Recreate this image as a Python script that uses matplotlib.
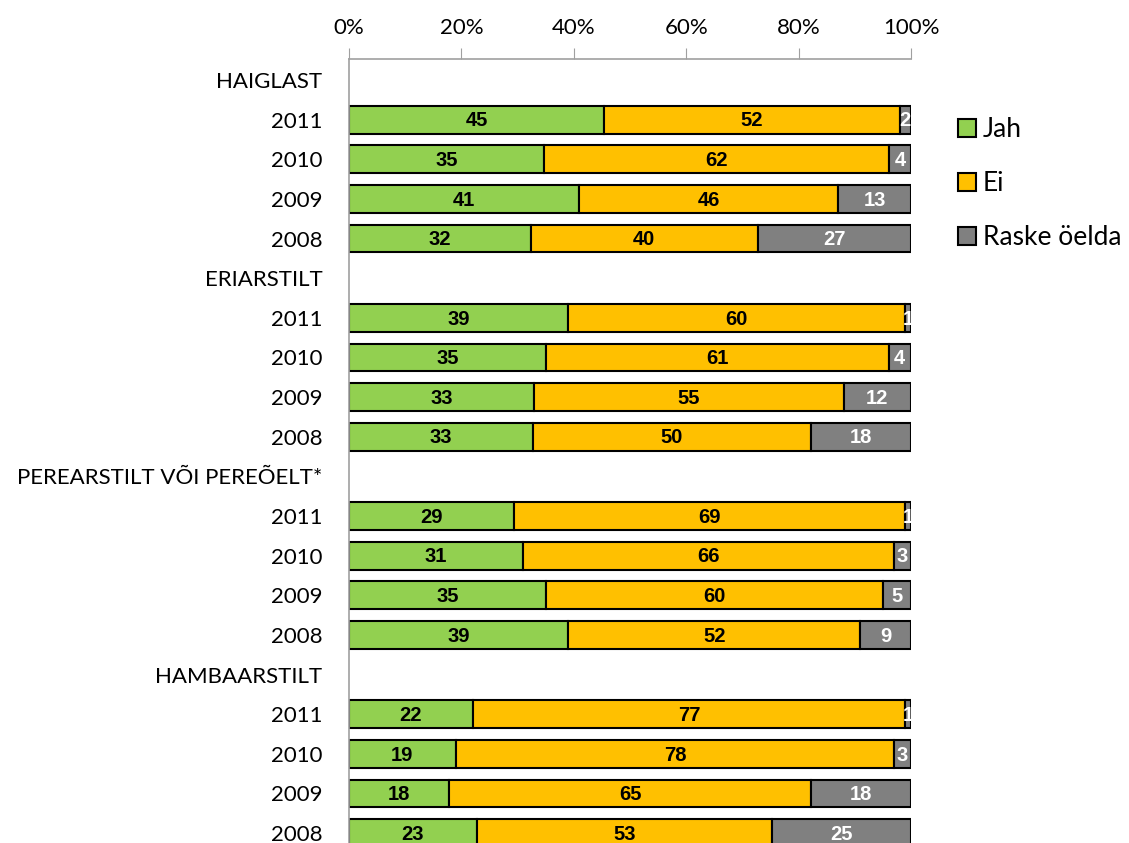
import matplotlib
matplotlib.use("Agg")
import matplotlib.pyplot as plt
import numpy as np

plt.rcParams['font.family'] = ['Lato', 'DejaVu Sans']

# rows from top to bottom; group header rows have no values
row_labels = ["HAIGLAST", "2011", "2010", "2009", "2008",
              "ERIARSTILT", "2011", "2010", "2009", "2008",
              "PEREARSTILT VÕI PEREÕELT*", "2011", "2010", "2009", "2008",
              "HAMBAARSTILT", "2011", "2010", "2009", "2008"]
jah = [None, 45, 35, 41, 32, None, 39, 35, 33, 33, None, 29, 31, 35, 39, None, 22, 19, 18, 23]
ei = [None, 52, 62, 46, 40, None, 60, 61, 55, 50, None, 69, 66, 60, 52, None, 77, 78, 65, 53]
raske = [None, 2, 4, 13, 27, None, 1, 4, 12, 18, None, 1, 3, 5, 9, None, 1, 3, 18, 25]

series_names = ["Jah", "Ei", "Raske öelda"]
colors = ["#92D050", "#FFC000", "#808080"]
text_colors = ["black", "black", "white"]

fig = plt.figure(figsize=(11.29, 8.43), dpi=100)
ax = fig.add_axes([349 / 1129, 0, 562 / 1129, (843 - 59) / 843])

ypos = np.arange(len(row_labels))
handles = []
for i in ypos:
    if jah[i] is None:
        continue
    vals = [jah[i], ei[i], raske[i]]
    total = float(sum(vals))
    left = 0.0
    for k, v in enumerate(vals):
        w = v / total
        b = ax.barh(i, w, left=left, height=0.7, color=colors[k],
                    edgecolor="black", linewidth=1.5)
        if len(handles) < 3:
            handles.append(b)
        ax.text(left + w / 2, i + 0.03, str(v), ha="center", va="center",
                fontsize=14.5, fontweight="bold", color=text_colors[k],
                family="Liberation Sans")
        left += w

ax.set_xlim(0, 1)
ax.set_ylim(19.25, -0.53)
ax.set_yticks(ypos)
ax.set_yticklabels(row_labels, fontsize=16)
ax.tick_params(axis="y", length=0, pad=19)
ax.xaxis.tick_top()
ax.set_xticks(np.linspace(0, 1, 6))
ax.set_xticklabels(["0%", "20%", "40%", "60%", "80%", "100%"], fontsize=16)
ax.tick_params(axis="x", direction="out", length=8, color="#A0A0A0", pad=7)
for s in ["right", "bottom"]:
    ax.spines[s].set_visible(False)
for s in ["top", "left"]:
    ax.spines[s].set_color("#A0A0A0")
    ax.spines[s].set_linewidth(1.2)

fig.legend(handles, series_names, loc="upper left",
           bbox_to_anchor=(958 / 1129, 1 - 117 / 843), frameon=False,
           fontsize=19, labelspacing=1.1, handlelength=0.7, handleheight=0.7,
           handletextpad=0.25, borderaxespad=0, borderpad=0)

fig.savefig("out.png", dpi=100)
